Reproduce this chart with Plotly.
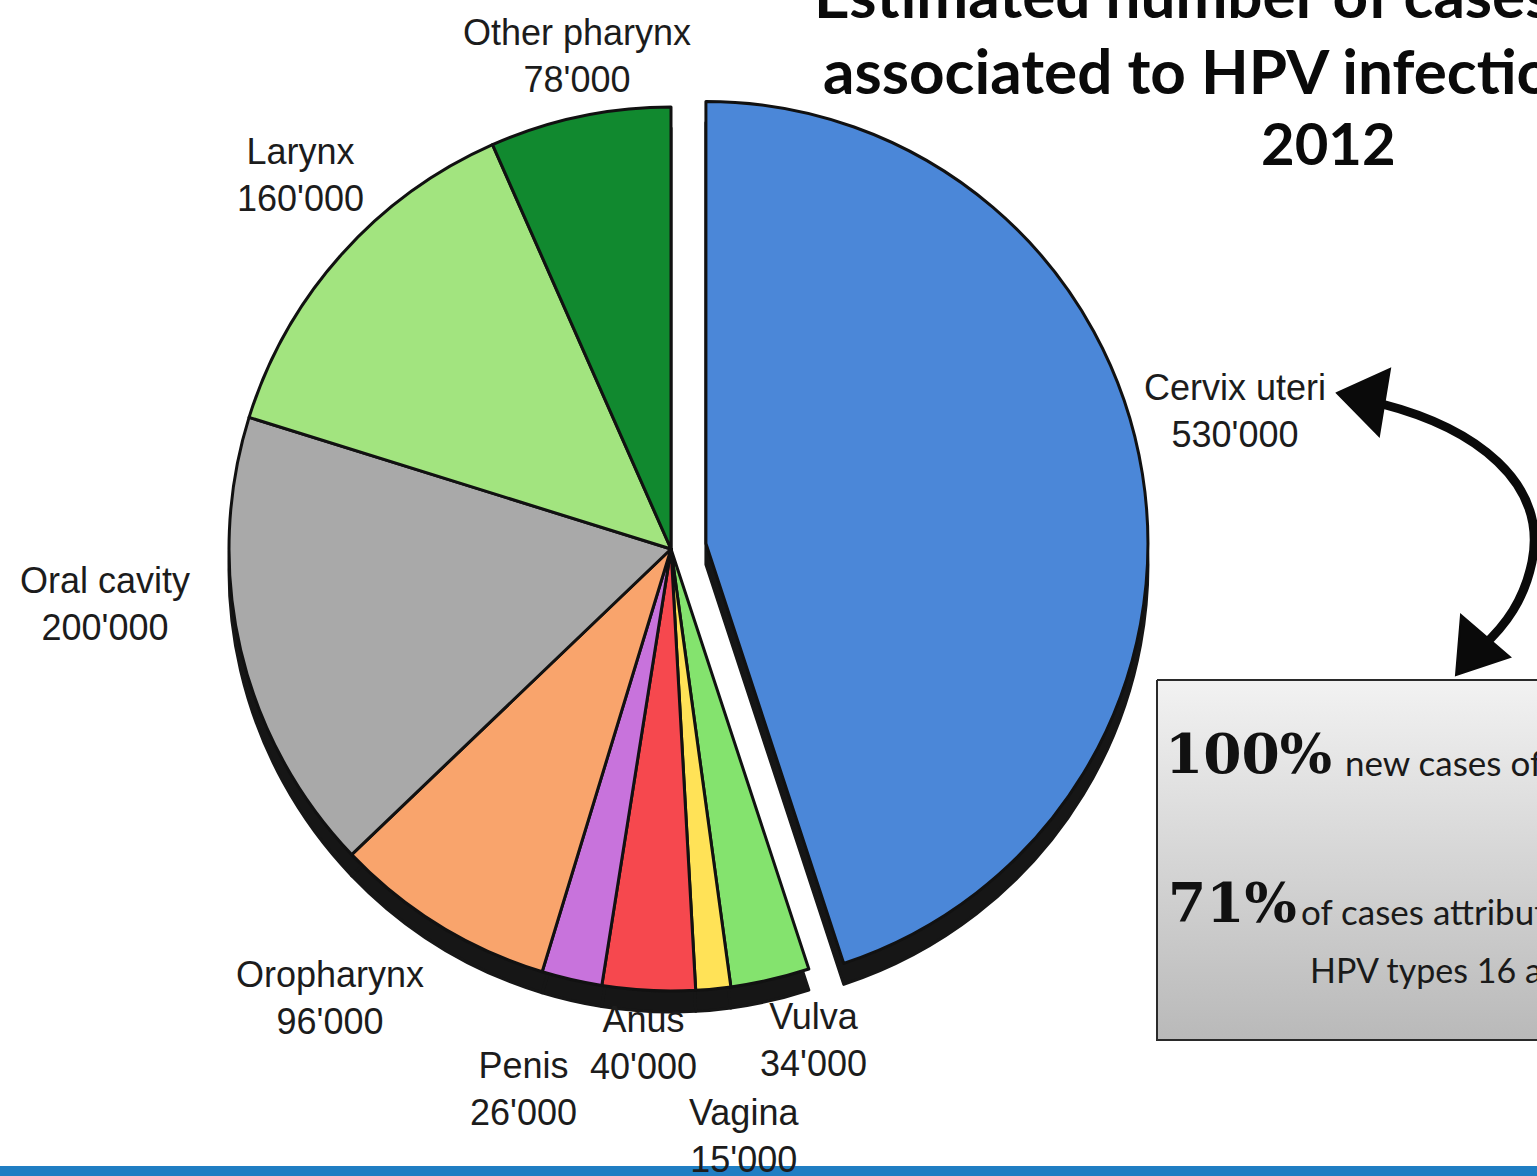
import plotly.graph_objects as go

# Estimated new cancer cases associated with HPV infection, 2012
labels = ["Cervix uteri", "Vulva", "Vagina", "Anus", "Penis",
          "Oropharynx", "Oral cavity", "Larynx", "Other pharynx"]
cases = [530000, 34000, 15000, 40000, 26000, 96000, 200000, 160000, 78000]
slice_colors = ["#4b87d8", "#84e36e", "#ffe257", "#f6484e", "#c873dc",
                "#f9a46c", "#a9a9a9", "#a2e47f", "#11892f"]
pulls = [0.08, 0, 0, 0, 0, 0, 0, 0, 0]

title_lines = ["Estimated number of cases", "associated to HPV infection", "2012"]
box_lines = [("100%", "new cases of cervical cancer"),
             ("71%", "of cases attributable to")]
box_sub = "HPV types 16 and 18"

W, H = 1537, 1176


def fmt(v):
    return f"{v:,}".replace(",", "'")


# pie geometry (pixels)
cx, cy, r = 671, 549, 442
half = r * (1 + max(pulls))
dom_x = [(cx - half) / W, (cx + half) / W]
dom_y = [1 - (cy + half) / H, 1 - (cy - half) / H]
depth = 21  # extruded side of the pie
dom_y_shadow = [dom_y[0] - depth / H, dom_y[1] - depth / H]

# caption centres for each slice (pixels)
label_pos = {
    "Cervix uteri": (1235, 411),
    "Vulva": (813, 1040),
    "Vagina": (744, 1136),
    "Anus": (643, 1043),
    "Penis": (523, 1089),
    "Oropharynx": (330, 998),
    "Oral cavity": (105, 604),
    "Larynx": (300, 175),
    "Other pharynx": (577, 56),
}

fig = go.Figure()

# dark extruded side
fig.add_trace(go.Pie(
    labels=labels, values=cases, sort=False, direction="clockwise", rotation=0,
    pull=pulls, textinfo="none", hoverinfo="skip", showlegend=False,
    marker=dict(colors=["#161616"] * len(cases), line=dict(color="#161616", width=3)),
    domain=dict(x=dom_x, y=dom_y_shadow),
))
# top face
fig.add_trace(go.Pie(
    labels=labels, values=cases, sort=False, direction="clockwise", rotation=0,
    pull=pulls, textinfo="none", hoverinfo="label+value", showlegend=False,
    marker=dict(colors=slice_colors, line=dict(color="#111111", width=3)),
    domain=dict(x=dom_x, y=dom_y),
))

# text box with vertical gradient
bx0, bx1, by0, by1 = 1157, 1560, 680, 1040
fig.add_trace(go.Scatter(
    x=[bx0, bx1, bx1, bx0, bx0], y=[by0, by0, by1, by1, by0],
    mode="lines", fill="toself",
    fillgradient=dict(type="vertical", start=by0, stop=by1,
                      colorscale=[[0, "#f2f2f2"], [1, "#b9b9b9"]]),
    line=dict(color="#2a2a2a", width=2), hoverinfo="skip", showlegend=False,
))

shapes = [
    # curved double-headed arrow
    dict(type="path", xref="x", yref="y",
         path="M 1382,404 C 1475,428 1548,482 1532,562 C 1524,600 1506,625 1482,647",
         line=dict(color="#0a0a0a", width=9)),
    dict(type="path", xref="x", yref="y",
         path="M 1337,393 L 1390,369 L 1379,436 Z",
         fillcolor="#0a0a0a", line=dict(color="#0a0a0a", width=2)),
    dict(type="path", xref="x", yref="y",
         path="M 1456,675 L 1461,615 L 1510,657 Z",
         fillcolor="#0a0a0a", line=dict(color="#0a0a0a", width=2)),
    # footer band
    dict(type="rect", xref="x", yref="y", x0=0, x1=W, y0=1166, y1=H,
         fillcolor="#1f7ec3", line=dict(width=0)),
]

annotations = []
for lab, val in zip(labels, cases):
    x, y = label_pos[lab]
    annotations.append(dict(
        x=x, y=y, xref="x", yref="y", xanchor="center", yanchor="middle",
        text=f"{lab}<br>{fmt(val)}", showarrow=False,
        font=dict(family="Liberation Sans, Arial", size=36, color="#1c1c1c"),
    ))

# title (first line runs off the top edge)
title_font = dict(family="Lato", size=62, color="#0a0a0a", weight="bold")
annotations.append(dict(x=812, y=0, yshift=6, xref="x", yref="y", xanchor="left", yanchor="middle",
                        text=title_lines[0], showarrow=False, font=title_font))
annotations.append(dict(x=821, y=70, xref="x", yref="y", xanchor="left", yanchor="middle",
                        text=title_lines[1], showarrow=False, font=title_font))
annotations.append(dict(x=1328, y=142, xref="x", yref="y", xanchor="center", yanchor="middle",
                        text=title_lines[2], showarrow=False,
                        font=dict(family="Lato", size=58, color="#0a0a0a", weight="bold")))

# text box content
big_font = dict(family="DejaVu Serif", size=55, color="#111111", weight="bold")
small_font = dict(family="Lato", size=35, color="#1a1a1a")
annotations.append(dict(x=1163, y=753, xref="x", yref="y", xanchor="left", yanchor="middle",
                        text=box_lines[0][0], showarrow=False, font=big_font))
annotations.append(dict(x=1343, y=762, xref="x", yref="y", xanchor="left", yanchor="middle",
                        text=box_lines[0][1], showarrow=False, font=small_font))
annotations.append(dict(x=1166, y=902, xref="x", yref="y", xanchor="left", yanchor="middle",
                        text=box_lines[1][0], showarrow=False, font=big_font))
annotations.append(dict(x=1299, y=911, xref="x", yref="y", xanchor="left", yanchor="middle",
                        text=box_lines[1][1], showarrow=False, font=small_font))
annotations.append(dict(x=1308, y=969, xref="x", yref="y", xanchor="left", yanchor="middle",
                        text=box_sub, showarrow=False,
                        font=dict(family="Lato", size=34, color="#1a1a1a")))

fig.update_layout(
    width=W, height=H, margin=dict(l=0, r=0, t=0, b=0),
    paper_bgcolor="white", plot_bgcolor="rgba(0,0,0,0)",
    xaxis=dict(range=[0, W], visible=False, fixedrange=True),
    yaxis=dict(range=[H, 0], visible=False, fixedrange=True),
    shapes=shapes, annotations=annotations, showlegend=False,
)

fig.write_html("out.html")
